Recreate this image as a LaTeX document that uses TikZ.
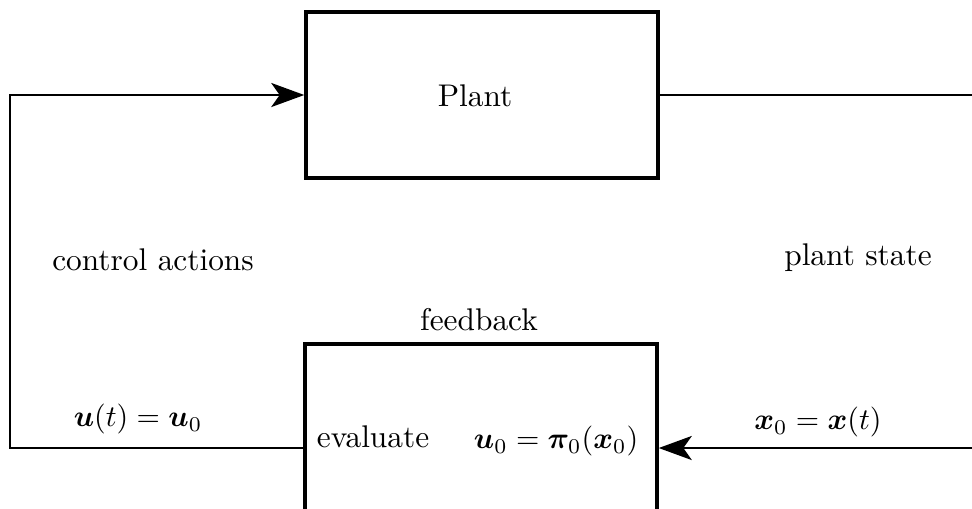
\documentclass[tikz,border=0pt]{standalone}
\usepackage{amsmath,bm}
\usetikzlibrary{arrows.meta}
\begin{document}
\begin{tikzpicture}[x=0.33333pt,y=-0.33333pt,
  blockbox/.style={draw, line width=1.15pt, minimum width=117.33pt, inner sep=0pt},
  conn/.style={line width=0.95pt},
  arr/.style={conn, -{Stealth[length=11pt,width=8pt,inset=2.8pt]}},
  lbl/.style={inner sep=0pt, font=\fontsize{10.45}{12.5}\selectfont}]
\useasboundingbox (0,0) rectangle (972,508);
\clip (0,0) rectangle (972,508);
\node[blockbox, minimum height=55.33pt] (plant) at (482,95) {};
\node[blockbox, minimum height=69.33pt] (fb) at (481,448) {};
\coordinate (L1) at (10,95);
\coordinate (L2) at (10,448);
\coordinate (R1) at (995,95);
\coordinate (R2) at (995,448);
\draw[arr] (fb.west) -- (L2) -- (L1) -- (plant.west);
\draw[arr] (plant.east) -- (R1) -- (R2) -- (fb.east);
\node[lbl] (pl) at (475,96) {Plant};
\node[lbl] (ca) at (153,260) {control actions};
\node[lbl] (ps) at (858,258) {plant state};
\node[lbl] (fbl) at (479,320) {feedback};
\node[lbl] (ut) at (138,419) {$\bm{u}(t) = \bm{u}_0$};
\node[lbl] (xt) at (818,422) {$\bm{x}_0 = \bm{x}(t)$};
\node[lbl] (ev) at (373,437) {evaluate};
\node[lbl] (pol) at (556,441) {$\bm{u}_0 = \bm{\pi}_0(\bm{x}_0)$};
\end{tikzpicture}
\end{document}
